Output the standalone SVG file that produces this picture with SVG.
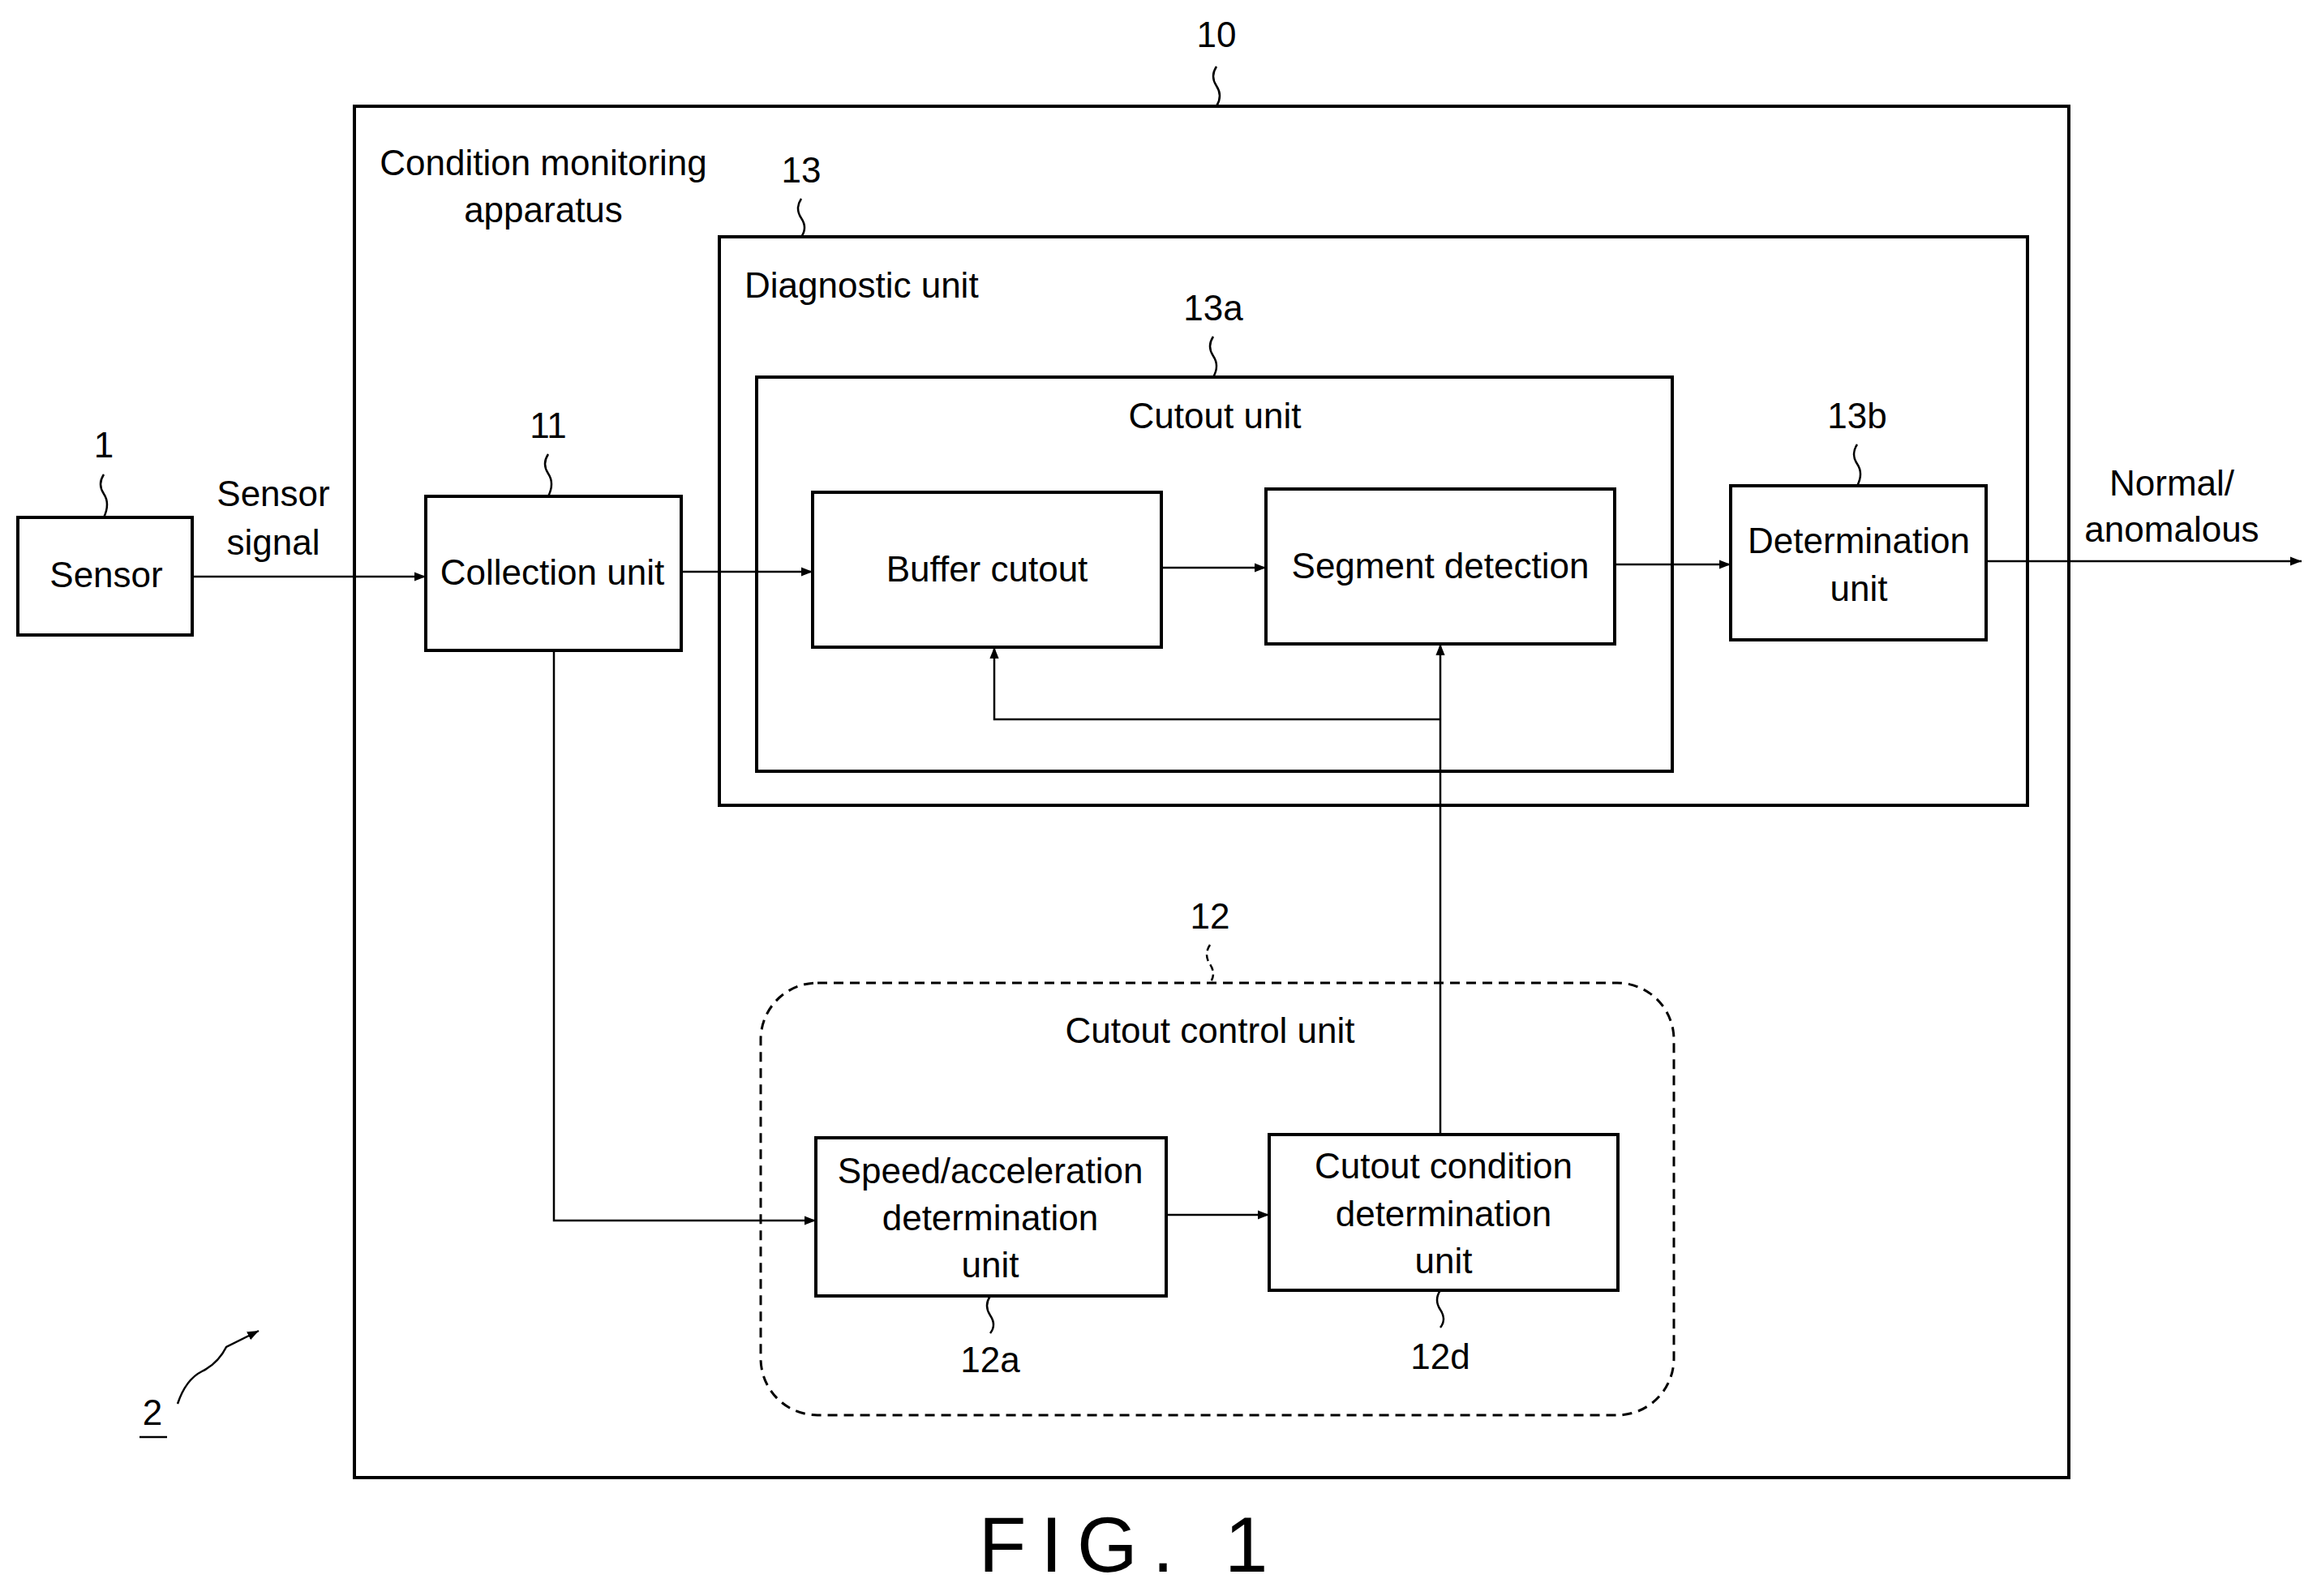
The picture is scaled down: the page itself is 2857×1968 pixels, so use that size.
<svg xmlns="http://www.w3.org/2000/svg" width="2857" height="1968" viewBox="0 0 2857 1968">
<style>
.b{fill:none;stroke:#000;stroke-width:4}
.l{fill:none;stroke:#000;stroke-width:2.5}
text{font-family:"Liberation Sans",Arial,sans-serif;font-size:44px;fill:#000;text-anchor:middle;dominant-baseline:middle}
.lt{text-anchor:start}
</style>
<defs><marker id="a" viewBox="0 0 10 10" refX="10" refY="5" markerWidth="14" markerHeight="14" markerUnits="userSpaceOnUse" orient="auto"><path d="M0,1 L10,5 L0,9 z" fill="#000"/></marker>
<marker id="a2" viewBox="0 0 10 10" refX="10" refY="5" markerWidth="40" markerHeight="40" markerUnits="userSpaceOnUse" orient="auto"><path d="M0,1 L10,5 L0,9 z" fill="#000"/></marker></defs>
<g id="n10"><rect class="b" x="437" y="131" width="2114" height="1691"/><text x="1500" y="46">10</text><path class="l" d="M1500,82 q-8,12 0,24 q8,12 0,25"/><text x="670" y="204">Condition monitoring</text><text x="670" y="262">apparatus</text></g>
<g id="n13"><rect class="b" x="887" y="292" width="1613" height="701"/><text x="988" y="213">13</text><path class="l" d="M988,245 q-8,12 0,24 q8,12 0,23"/><text class="lt" x="918" y="355">Diagnostic unit</text></g>
<g id="n13a"><rect class="b" x="933" y="465" width="1129" height="486"/><text x="1496" y="383">13a</text><path class="l" d="M1496,415 q-8,12 0,24 q8,12 0,26"/><text x="1498" y="516">Cutout unit</text></g>
<g id="buf"><rect class="b" x="1002" y="607" width="430" height="191"/><text x="1217" y="705">Buffer cutout</text></g>
<g id="seg"><rect class="b" x="1561" y="603" width="430" height="191"/><text x="1776" y="701">Segment detection</text></g>
<g id="n13b"><rect class="b" x="2134" y="599" width="315" height="190"/><text x="2292" y="670">Determination</text><text x="2292" y="729">unit</text><text x="2290" y="516">13b</text><path class="l" d="M2290,548 q-8,12 0,24 q8,12 0,27"/></g>
<g id="n1"><rect class="b" x="22" y="638" width="215" height="145"/><text x="131" y="712">Sensor</text><text x="128" y="552">1</text><path class="l" d="M128,585 q-8,12 0,24 q8,12 0,29"/></g>
<g id="n11"><rect class="b" x="525" y="612" width="315" height="190"/><text x="681" y="709">Collection unit</text><text x="676" y="528">11</text><path class="l" d="M676,560 q-8,12 0,24 q8,12 0,28"/></g>
<g id="n12"><rect x="938" y="1212" width="1126" height="533" rx="70" fill="none" stroke="#000" stroke-width="3" stroke-dasharray="12,8"/><text x="1492" y="1133">12</text><path class="l" d="M1492,1165 q-8,12 0,24 q8,12 0,23" stroke-dasharray="8,5"/><text x="1492" y="1274">Cutout control unit</text></g>
<g id="n12a"><rect class="b" x="1006" y="1403" width="432" height="195"/><text x="1221" y="1447">Speed/acceleration</text><text x="1221" y="1505">determination</text><text x="1221" y="1563">unit</text><path class="l" d="M1221,1598 q-8,12 0,24 q8,12 0,22"/><text x="1221" y="1680">12a</text></g>
<g id="n12d"><rect class="b" x="1565" y="1399" width="430" height="192"/><text x="1780" y="1441">Cutout condition</text><text x="1780" y="1500">determination</text><text x="1780" y="1558">unit</text><path class="l" d="M1776,1591 q-8,12 0,24 q8,12 0,22"/><text x="1776" y="1676">12d</text></g>
<g id="connectors">
<path class="l" d="M237,711 H525" marker-end="url(#a)"/>
<text x="337" y="612">Sensor</text><text x="337" y="672">signal</text>
<path class="l" d="M840,705 H1002" marker-end="url(#a)"/>
<path class="l" d="M1432,700 H1561" marker-end="url(#a)"/>
<path class="l" d="M1991,696 H2134" marker-end="url(#a)"/>
<path class="l" d="M2449,692 H2838" marker-end="url(#a)"/>
<text x="2678" y="599">Normal/</text><text x="2678" y="656">anomalous</text>
<path class="l" d="M1776,1399 V794" marker-end="url(#a)"/>
<path class="l" d="M1776,887 H1226 V798" marker-end="url(#a)"/>
<path class="l" d="M683,802 V1505 H1006" marker-end="url(#a)"/>
<path class="l" d="M1438,1498 H1565" marker-end="url(#a)"/>
<path class="l" d="M219,1731 q10,-30 30,-40 q20,-10 30,-30 l40,-20" marker-end="url(#a)"/>
</g>
<text x="188" y="1745">2</text><path class="l" d="M172,1772 H206"/>
<text x="1394" y="1913" style="font-size:96px;letter-spacing:18px">FIG. 1</text>
</svg>
